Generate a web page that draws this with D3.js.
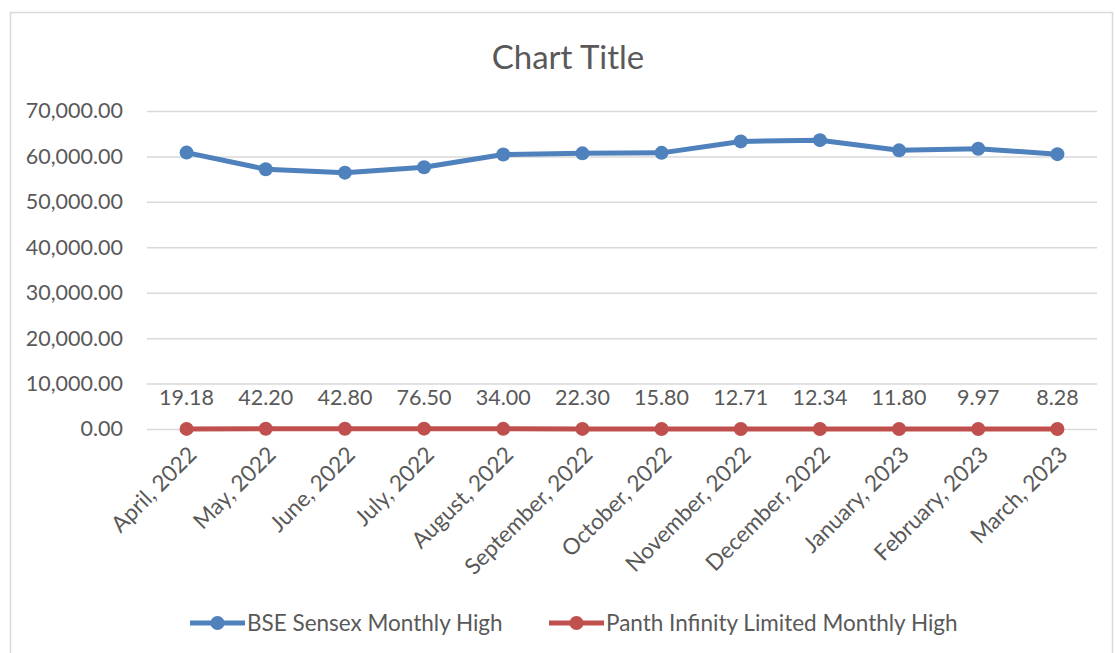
<!DOCTYPE html>
<html>
<head>
<meta charset="utf-8">
<script src="https://cdn.jsdelivr.net/npm/d3@7"></script>
<style>
    body { margin: 0; background: #fff; }
    text { font-family: Lato, "Open Sans", sans-serif; fill: #595959; }
</style>
</head>
<body>
<div id="svganchor"></div>
<script>
let width = 1115;
let height = 653;
let margin = ({top: 111, right: 18, bottom: 224, left: 147});

// Months on the category axis
let months = ["April, 2022", "May, 2022", "June, 2022", "July, 2022", "August, 2022",
    "September, 2022", "October, 2022", "November, 2022", "December, 2022",
    "January, 2023", "February, 2023", "March, 2023"];

// BSE Sensex monthly high
let sensexHigh = [60845, 57184, 56432, 57619, 60411, 60676, 60786, 63303, 63583, 61343, 61682, 60498];

// Panth Infinity Limited monthly high
let panthHigh = [19.18, 42.20, 42.80, 76.50, 34.00, 22.30, 15.80, 12.71, 12.34, 11.80, 9.97, 8.28];

let yTicks = [0, 10000, 20000, 30000, 40000, 50000, 60000, 70000];

let seriesNames = ["BSE Sensex Monthly High", "Panth Infinity Limited Monthly High"];
let colors = d3.scaleOrdinal().domain(seriesNames).range(["#4F81BD", "#C0504D"]);

let svg = d3.select("#svganchor")
    .append("svg")
    .attr("width", width)
    .attr("height", height);

// chart border
svg.append("rect")
    .attr("x", 10.5).attr("y", 12.5)
    .attr("width", 1102).attr("height", 660)
    .attr("fill", "none")
    .attr("stroke", "#D9D9D9")
    .attr("stroke-width", 1.5);

svg.append("text")
    .attr("x", 568).attr("y", 69)
    .attr("text-anchor", "middle")
    .style("font-size", "33px")
    .text("Chart Title");

let xScale = d3.scalePoint()
    .domain(months)
    .range([margin.left, width - margin.right])
    .padding(0.5);

let yScale = d3.scaleLinear()
    .domain([0, 70000])
    .range([height - margin.bottom, margin.top]);

// Gridlines + y labels
let yAxis = d3.axisLeft(yScale)
    .tickValues(yTicks)
    .tickSize(-(width - margin.right - margin.left))
    .tickPadding(24)
    .tickFormat(d3.format(",.2f"));

let yg = svg.append("g")
    .attr("transform", "translate(" + margin.left + ",0)")
    .call(yAxis);
yg.select(".domain").remove();
yg.selectAll(".tick line").attr("stroke", "#D9D9D9").attr("stroke-width", 1.5);
yg.selectAll(".tick text").style("font-size", "21.5px").attr("fill", "#595959")
    .style("font-family", "Lato, sans-serif");

// x labels rotated
let xAxis = d3.axisBottom(xScale).tickSize(0).tickPadding(0);
let xg = svg.append("g")
    .attr("transform", "translate(0," + (height - margin.bottom) + ")")
    .call(xAxis);
xg.select(".domain").remove();
xg.selectAll(".tick text")
    .style("font-size", "22.5px")
    .style("font-family", "Lato, sans-serif")
    .attr("fill", "#595959")
    .attr("text-anchor", "end")
    .attr("dy", "0")
    .attr("transform", "translate(11,27) rotate(-45)");

// Lines
let line = d3.line()
    .x(function(d, i) { return xScale(months[i]); })
    .y(function(d) { return yScale(d); });

[sensexHigh, panthHigh].forEach(function(values, k) {
    let c = colors(seriesNames[k]);
    svg.append("path")
        .datum(values)
        .attr("fill", "none")
        .attr("stroke", c)
        .attr("stroke-width", 5)
        .attr("stroke-linejoin", "round")
        .attr("d", line);

    svg.selectAll(".pt" + k)
        .data(values)
        .enter()
        .append("circle")
        .attr("class", "pt" + k)
        .attr("cx", function(d, i) { return xScale(months[i]); })
        .attr("cy", function(d) { return yScale(d); })
        .attr("r", 7)
        .attr("fill", c);
});

// Data labels for the Panth series
svg.selectAll(".lbl")
    .data(panthHigh)
    .enter()
    .append("text")
    .attr("class", "lbl")
    .attr("x", function(d, i) { return xScale(months[i]); })
    .attr("y", function(d) { return yScale(d) - 24; })
    .attr("text-anchor", "middle")
    .style("font-size", "21.5px")
    .text(function(d) { return d3.format(".2f")(d); });

// Legend
let legendX = [190, 549];
seriesNames.forEach(function(name, k) {
    let g = svg.append("g").attr("transform", "translate(" + legendX[k] + ",623)");
    g.append("line")
        .attr("x1", 0).attr("x2", 55)
        .attr("stroke", colors(name))
        .attr("stroke-width", 5);
    g.append("circle")
        .attr("cx", 27.5).attr("r", 7)
        .attr("fill", colors(name));
    g.append("text")
        .attr("x", 57).attr("y", 8)
        .style("font-size", "22.5px")
        .text(name);
});
</script>
</body>
</html>
